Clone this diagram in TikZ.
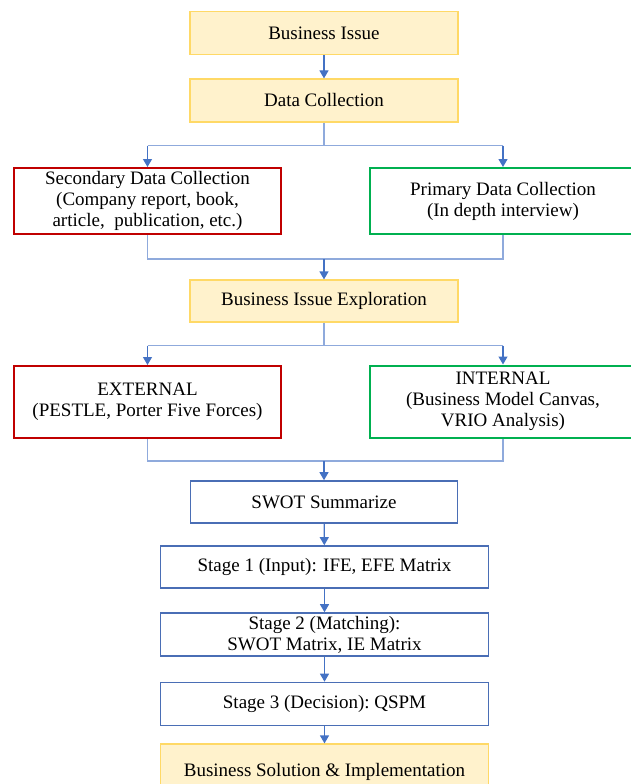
\documentclass[tikz,border=0pt]{standalone}
\usepackage{fontspec}
\setmainfont{Liberation Serif}
\newfontfamily\boxfont{Liberation Serif}
\usetikzlibrary{arrows.meta}
\definecolor{yfill}{HTML}{FFF2CC}
\definecolor{yline}{HTML}{FFD966}
\definecolor{redline}{HTML}{C00000}
\definecolor{greenline}{HTML}{00B050}
\definecolor{blueline}{HTML}{4A6EB5}
\definecolor{linkblue}{HTML}{4472C4}
\definecolor{joinblue}{HTML}{8FAADC}
\begin{document}
\begin{tikzpicture}[x=1pt,y=-1pt,
    box/.style={draw, align=center, inner sep=0pt, font=\boxfont\fontsize{19}{21}\selectfont},
    yellowbox/.style={box, fill=yfill, draw=yline, line width=1.2pt},
    redbox/.style={box, draw=redline, line width=2pt, minimum width=267pt},
    greenbox/.style={box, draw=greenline, line width=2pt, minimum width=266pt},
    bluebox/.style={box, draw=blueline, line width=1.6pt},
    arr/.style={draw=linkblue, line width=1.2pt, -{Triangle[width=9pt,length=8pt]}},
    joinline/.style={draw=joinblue, line width=1.2pt}]
    \useasboundingbox (0,0) rectangle (630,784);

    \node[yellowbox, minimum width=268pt, minimum height=43pt] (issue) at (324,33) {Business Issue};
    \node[yellowbox, minimum width=268pt, minimum height=43pt] (collect) at (324,100.5) {Data Collection};
    \node[redbox, minimum height=66pt] (second) at (147.5,201) {Secondary Data Collection\\(Company report, book,\\article,\ \ publication, etc.)};
    \node[greenbox, minimum height=66pt] (primary) at (503,201) {Primary Data Collection\\(In depth interview)};
    \node[yellowbox, minimum width=268pt, minimum height=42pt] (explore) at (324,301) {Business Issue Exploration};
    \node[redbox, minimum height=72pt] (external) at (147.5,402) {EXTERNAL\\(PESTLE,\ Porter Five Forces)};
    \node[greenbox, minimum height=72pt] (internal) at (503,401.5) {INTERNAL\\(Business Model Canvas,\\VRIO Analysis)};
    \node[bluebox, minimum width=267pt, minimum height=42pt] (swot) at (324,502) {SWOT Summarize};
    \node[bluebox, minimum width=328pt, minimum height=42pt] (stage1) at (324.5,567) {Stage 1 (Input): IFE, EFE Matrix};
    \node[bluebox, minimum width=328pt, minimum height=43pt] (stage2) at (324.5,634.5) {Stage 2 (Matching):\\SWOT Matrix, IE Matrix};
    \node[bluebox, minimum width=328pt, minimum height=43pt] (stage3) at (324.5,704) {Stage 3 (Decision):\ QSPM};
    \node[yellowbox, minimum width=328pt, minimum height=56pt] (solution) at (324.5,772) {Business Solution \& Implementation};

    \draw[arr] (issue) -- (collect);

    % split after data collection
    \draw[joinline] (collect.south) -- ++(0,23) coordinate (split1);
    \draw[joinline] (second.north |- split1) -- (primary.north |- split1);
    \draw[arr] (second.north |- split1) -- (second.north);
    \draw[arr] (primary.north |- split1) -- (primary.north);

    % merge into exploration
    \draw[joinline] (second.south) -- ++(0,24) coordinate (merge1) -| (primary.south);
    \draw[arr] (explore.north |- merge1) -- (explore.north);

    % split after exploration
    \draw[joinline] (explore.south) -- ++(0,23) coordinate (split2);
    \draw[joinline] (external.north |- split2) -- (internal.north |- split2);
    \draw[arr] (external.north |- split2) -- (external.north);
    \draw[arr] (internal.north |- split2) -- (internal.north);

    % merge into swot
    \draw[joinline] (external.south) -- ++(0,22) coordinate (merge2) -| (internal.south);
    \draw[arr] (swot.north |- merge2) -- (swot.north);

    \draw[arr] (swot) -- (stage1);
    \draw[arr] (stage1) -- (stage2);
    \draw[arr] (stage2) -- (stage3);
    \draw[arr] (stage3) -- (solution);

\end{tikzpicture}
\end{document}
